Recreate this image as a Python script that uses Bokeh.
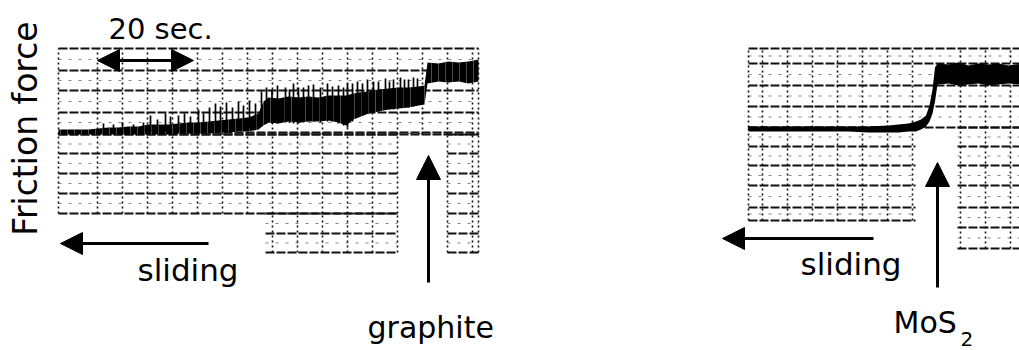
import numpy as np
from bokeh.plotting import figure
from bokeh.models import Range1d, Label, Arrow, NormalHead
from bokeh.embed import file_html
from bokeh.resources import INLINE

# ---------------- data ----------------
# Friction-force record after graphite addition (time in s, force in chart divisions)
graphite_time = [0, 2, 4, 6, 8, 10, 12, 14, 16, 18, 20, 22, 24, 26, 28, 30, 32, 34, 36, 38,
                 40, 41, 42, 44, 46, 48, 50, 52, 54, 56, 57.5, 59, 60, 62, 64, 66, 68, 70, 72,
                 73.2, 73.8, 76, 78, 80, 82, 84]
graphite_low = [3.95, 3.95, 3.95, 3.95, 3.95, 3.95, 3.95, 3.95, 3.95, 3.95, 3.95, 3.95, 4.0, 4.0,
                4.0, 4.0, 4.05, 4.05, 4.1, 4.1, 4.2, 4.4, 4.55, 4.5, 4.6, 4.55, 4.6, 4.6, 4.65,
                4.55, 4.4, 4.7, 4.8, 5.0, 5.1, 5.2, 5.25, 5.3, 5.4, 5.45, 6.5, 6.6, 6.55, 6.6,
                6.5, 6.6]
graphite_high = [4.2, 4.2, 4.2, 4.2, 4.25, 4.3, 4.3, 4.35, 4.35, 4.45, 4.45, 4.45, 4.5, 4.55,
                 4.55, 4.6, 4.65, 4.7, 4.75, 4.8, 5.0, 5.6, 5.8, 5.75, 5.85, 5.8, 5.85, 5.8, 5.9,
                 5.9, 5.9, 6.0, 6.05, 6.1, 6.2, 6.25, 6.3, 6.3, 6.35, 6.4, 7.55, 7.5, 7.6, 7.55,
                 7.6, 7.7]

# stick-slip spikes on the graphite record
spike_time = [9, 11, 12.8, 15, 17, 18.4, 19.8, 21.4, 22.4, 24, 25.2, 26.4, 28, 29, 30.2, 31.4,
              32.4, 33.6, 34.8, 36, 37, 38.2, 39.4, 40.6, 41.6, 42.7, 43.8, 45.4, 46.2, 47, 48,
              49, 50, 51, 52.4, 53.8, 54.8, 56, 57, 57.8, 58.8, 59.8, 60.8, 61.8, 63, 64, 65.4,
              66.2, 67, 68.4, 69.2, 70, 71, 71.8]
spike_low = [4.1, 4.1, 4.1, 4.1, 4.1, 4.1, 4.1, 4.1, 4.1, 4.15, 4.15, 4.15, 4.15, 4.15, 4.15,
             4.15, 4.15, 4.2, 4.2, 4.2, 4.2, 4.25, 4.25, 4.4, 4.5, 4.5, 4.5, 4.55, 4.55, 4.5,
             4.5, 4.55, 4.6, 4.6, 4.55, 4.6, 4.6, 4.5, 4.4, 4.3, 4.6, 4.8, 4.9, 5.0, 5.05, 5.1,
             5.2, 5.2, 5.2, 5.3, 5.3, 5.3, 5.35, 5.4]
spike_high = [4.5, 4.45, 4.55, 4.45, 4.55, 4.9, 4.7, 5.0, 4.85, 4.9, 5.0, 4.85, 5.2, 5.0, 5.3,
              5.5, 5.35, 5.55, 5.3, 5.6, 5.4, 5.65, 5.5, 6.1, 6.3, 6.2, 6.4, 6.3, 6.2, 6.5, 6.3,
              6.3, 6.4, 6.45, 6.3, 6.5, 6.35, 6.4, 6.3, 6.5, 6.5, 6.6, 6.5, 6.7, 6.6, 6.6, 6.75,
              6.6, 6.7, 6.8, 6.7, 6.7, 6.8, 6.75]

# Friction-force record after MoS2 addition
mos2_time = [0, 4, 8, 12, 16, 20, 24, 28, 30, 32, 33.5, 34.5, 35.5, 36.2, 36.8, 37.3, 37.8,
             40, 42, 44, 46, 48, 50, 52, 55]
mos2_low = [4.1, 4.1, 4.1, 4.1, 4.1, 4.1, 4.05, 4.05, 4.05, 4.1, 4.1, 4.2, 4.35, 4.6, 5.0, 5.6,
            6.45, 6.5, 6.4, 6.45, 6.5, 6.4, 6.45, 6.5, 6.45]
mos2_high = [4.35, 4.35, 4.35, 4.35, 4.35, 4.35, 4.35, 4.4, 4.45, 4.5, 4.6, 4.7, 4.9, 5.4, 6.2,
             7.3, 7.5, 7.45, 7.55, 7.4, 7.5, 7.45, 7.5, 7.4, 7.5]

MOS2_OFFSET = 138  # where the second record is placed on the shared time axis

# ---------------- figure ----------------
p = figure(width=1019, height=350, x_range=Range1d(-11.6, 192.2), y_range=Range1d(-6.85, 10.65),
           output_backend="svg", toolbar_location=None, x_axis_location=None,
           y_axis_location=None, min_border=0)
p.xgrid.visible = False
p.ygrid.visible = False
p.outline_line_color = None
p.background_fill_color = "white"
p.border_fill_color = "white"


def draw_paper(offset, blocks, hlines, vlines):
    hx0, hx1, hy = [], [], []
    mx0, mx1, my = [], [], []
    vx, vy0, vy1 = [], [], []
    for (t0, t1, yb, yt) in blocks:
        hs = sorted(set([yb, yt] + [h for h in hlines if yb <= h <= yt]))
        for y in hs:
            hx0.append(offset + t0); hx1.append(offset + t1); hy.append(y)
        for a, b in zip(hs[:-1], hs[1:]):
            mx0.append(offset + t0); mx1.append(offset + t1); my.append((a + b) / 2)
        for v in vlines:
            if t0 <= v <= t1:
                vx.append(offset + v); vy0.append(yb); vy1.append(yt)
    p.segment(x0=hx0, y0=hy, x1=hx1, y1=hy, line_color="#111111", line_width=1.8,
              line_dash="9 2")
    p.segment(x0=mx0, y0=my, x1=mx1, y1=my, line_color="#333333", line_width=1.2,
              line_dash="3 7", line_alpha=0.6)
    p.segment(x0=vx, y0=vy0, x1=vx, y1=vy1, line_color="#111111", line_width=1.6,
              line_dash="2 3")


left_h = [8.25, 7.15, 6.15, 5.05, 4.05, 3.0, 2.0, 1.0, 0.0, -1.0, -1.95]
left_v = [0] + [7.8 + 5 * k for k in range(16)] + [84]
draw_paper(0, [(0, 84, 3.95, 8.25), (0, 67.8, 0.0, 3.95), (41.4, 67.8, -1.95, 0.0),
               (77.8, 84, -1.95, 3.95)], left_h, left_v)

right_h = [8.25, 7.5, 6.4, 5.35, 4.3, 3.35, 2.4, 1.4, 0.3, -0.7, -1.75]
right_v = [0] + [2.8 + 5 * k for k in range(7)] + [42.4, 47.4, 52.4]
draw_paper(MOS2_OFFSET, [(0, 56, 4.3, 8.25), (0, 33.4, -0.35, 4.3), (41.8, 56, -1.75, 4.3)],
           right_h, right_v)

# traces
p.varea(x=graphite_time, y1=graphite_low, y2=graphite_high, fill_color="black",
        hatch_pattern="vertical_line", hatch_color="white", hatch_scale=7, hatch_weight=1,
        hatch_alpha=0.3)
p.segment(x0=spike_time, y0=spike_low, x1=spike_time, y1=spike_high, line_color="black",
          line_width=1.7)
p.varea(x=np.array(mos2_time) + MOS2_OFFSET, y1=mos2_low, y2=mos2_high, fill_color="black")

FONT = "DejaVu Sans"

# labels
p.add_layout(Label(x=-6.6, y=4.25, text="Friction force", angle=np.pi / 2, text_align="center",
                   text_baseline="middle", text_font=FONT, text_font_size="33px",
                   text_color="black"))
p.add_layout(Label(x=10, y=9.25, text="20 sec.", text_font=FONT, text_font_size="29px",
                   text_baseline="alphabetic", text_color="black"))
p.add_layout(Label(x=15.8, y=-2.8, text="sliding", text_font=FONT, text_font_size="31px",
                   text_baseline="alphabetic", text_color="black"))
p.add_layout(Label(x=61.8, y=-5.7, text="graphite", text_font=FONT, text_font_size="30px",
                   text_baseline="alphabetic", text_color="black"))
p.add_layout(Label(x=MOS2_OFFSET + 10.4, y=-2.5, text="sliding", text_font=FONT,
                   text_font_size="31px", text_baseline="alphabetic", text_color="black"))
p.add_layout(Label(x=MOS2_OFFSET + 29, y=-5.45, text="MoS", text_font=FONT,
                   text_font_size="30px", text_baseline="alphabetic", text_color="black"))
p.add_layout(Label(x=MOS2_OFFSET + 42.4, y=-6.25, text="2", text_font=FONT,
                   text_font_size="20px", text_baseline="alphabetic", text_color="black"))


def head(size):
    return NormalHead(size=size, fill_color="black", line_color="black", line_width=1)


# 20 s scale bar
p.add_layout(Arrow(start=head(22), end=head(22), x_start=7.8, y_start=7.65, x_end=27,
                   y_end=7.65, line_width=3, line_color="black"))
# sliding direction arrows
p.add_layout(Arrow(end=head(22), x_start=30, y_start=-1.5, x_end=0.4, y_end=-1.5,
                   line_width=3, line_color="black"))
p.add_layout(Arrow(end=head(22), x_start=MOS2_OFFSET + 25, y_start=-1.25,
                   x_end=MOS2_OFFSET - 5.2, y_end=-1.25, line_width=3, line_color="black"))
# addition markers
p.add_layout(Arrow(end=head(24), x_start=74, y_start=-3.45, x_end=74, y_end=2.9,
                   line_width=3, line_color="black"))
p.add_layout(Arrow(end=head(24), x_start=MOS2_OFFSET + 37.8, y_start=-3.7,
                   x_end=MOS2_OFFSET + 37.8, y_end=2.55, line_width=3, line_color="black"))

open("out.html", "w").write(file_html(p, INLINE))
